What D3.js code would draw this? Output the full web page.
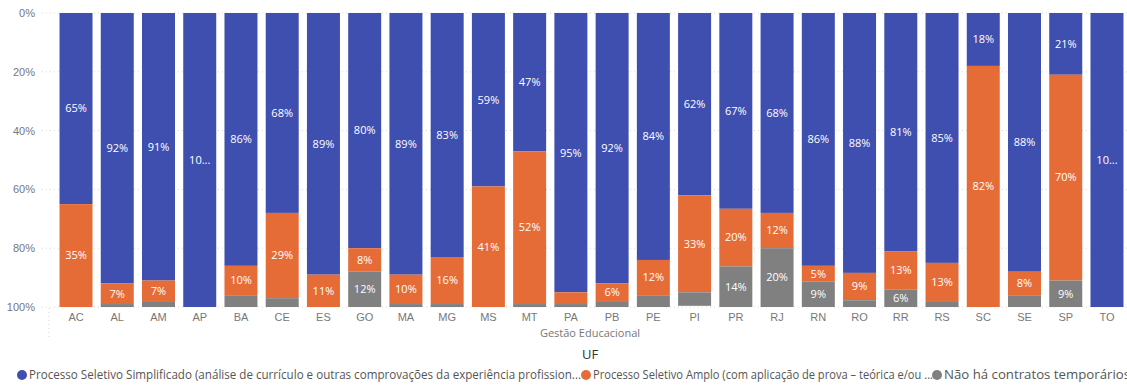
<!DOCTYPE html>
<html><head><meta charset="utf-8">
<script src="https://cdn.jsdelivr.net/npm/d3@7"></script>
<style>
body{margin:0;background:#fff;}
svg{display:block;font-family:"Open Sans","Noto Sans",sans-serif;}
</style></head>
<body><svg id="c" width="1127" height="385"></svg>
<script>
const categories = ["AC","AL","AM","AP","BA","CE","ES","GO","MA","MG","MS","MT","PA","PB","PE","PI","PR","RJ","RN","RO","RR","RS","SC","SE","SP","TO"];
const simplificado = [65,92,91,100,86,68,89,80,89,83,59,47,95,92,84,62,66.6,68,86,88.4,81,85,18,88,21,100];
const amplo        = [35,7,7,0,10,29,11,8,10,16,41,52,4,6,12,33,19.6,12,5.4,9.3,13,13,82,8,70,0];
const semContratos = [0,1,2,0,4,3,0,12,1,1,0,1,1,2,4,4.6,13.8,20,8.6,2.3,6,2,0,4,9,0];
const seriesNames = ["Processo Seletivo Simplificado (análise de currículo e outras comprovações da experiência profission...",
  "Processo Seletivo Amplo (com aplicação de prova – teórica e/ou ...",
  "Não há contratos temporários"];
const colors = ["#3F4FAF","#E66C37","#808080"];
const yTicks = [0,20,40,60,80,100];

const svg = d3.select("#c");
const x = d3.scaleBand().domain(categories).range([55.4,1127.6]).paddingInner(0.2).paddingOuter(0.1);
const y = d3.scaleLinear().domain([0,100]).range([13,307]);

// gridlines
svg.append("g").selectAll("line").data(yTicks).join("line")
  .attr("x1",42).attr("x2",1127).attr("y1",d=>y(d)).attr("y2",d=>y(d))
  .attr("stroke","#d6d6d6").attr("stroke-dasharray","1,3");

// y axis
const yAxis = svg.append("g").attr("transform","translate(35,0)")
  .call(d3.axisLeft(y).tickValues(yTicks).tickFormat(d=>d+"%").tickSize(0).tickPadding(0));
yAxis.select(".domain").remove();
yAxis.selectAll("text").attr("fill","#777").attr("font-size",11).style("font-family","inherit");

// stacked data
const rows = categories.map((c,i)=>({cat:c, v:[simplificado[i],amplo[i],semContratos[i]]}));
const segs = [];
rows.forEach(r=>{ let acc=0; r.v.forEach((v,k)=>{ segs.push({cat:r.cat,k,v,y0:acc,y1:acc+v}); acc+=v; }); });

svg.append("g").selectAll("rect").data(segs.filter(s=>s.v>0)).join("rect")
  .attr("x",d=>x(d.cat)).attr("width",x.bandwidth())
  .attr("y",d=>y(d.y0)).attr("height",d=>y(d.y1)-y(d.y0))
  .attr("fill",d=>colors[d.k]);

// labels
const lg = svg.append("g");
segs.filter(s=>y(s.y1)-y(s.y0)>=14).forEach(s=>{
  const t = lg.append("text")
    .attr("x",x(s.cat)+x.bandwidth()/2).attr("y",(y(s.y0)+y(s.y1))/2)
    .attr("dy","0.35em").attr("text-anchor","middle")
    .attr("fill","#fff").attr("font-size",11)
    .text(Math.round(s.v)+"%");
  let txt = Math.round(s.v)+"%";
  while(t.node().getComputedTextLength() > x.bandwidth()-8 && txt.length>1){
    txt = txt.slice(0,-1); t.text(txt+"...");
  }
});

// x axis
const xAxis = svg.append("g").attr("transform","translate(0,311)")
  .call(d3.axisBottom(x).tickSize(0).tickPadding(2));
xAxis.select(".domain").remove();
xAxis.selectAll("text").attr("fill","#777").attr("font-size",11).style("font-family","inherit");

// group separator
svg.append("line").attr("x1",49).attr("x2",49).attr("y1",308).attr("y2",338)
  .attr("stroke","#d6d6d6").attr("stroke-dasharray","1,3");

svg.append("text").attr("x",590).attr("y",337).attr("text-anchor","middle")
  .attr("fill","#777").attr("font-size",11).text("Gestão Educacional");
svg.append("text").attr("x",590).attr("y",359).attr("text-anchor","middle")
  .attr("fill","#333").attr("font-size",13).text("UF");

// legend
const legX = [22,586,937];
const legW = [552,340,186];
seriesNames.forEach((n,i)=>{
  svg.append("circle").attr("cx",legX[i]).attr("cy",375).attr("r",5).attr("fill",colors[i]);
  const t = svg.append("text").attr("x",legX[i]+7).attr("y",375).attr("dy","0.35em")
    .attr("fill","#555").attr("font-size",12).text(n);
  const w = t.node().getComputedTextLength();
  if (Math.abs(w-legW[i])>3) t.attr("textLength",legW[i]).attr("lengthAdjust","spacingAndGlyphs");
});
</script></body></html>
